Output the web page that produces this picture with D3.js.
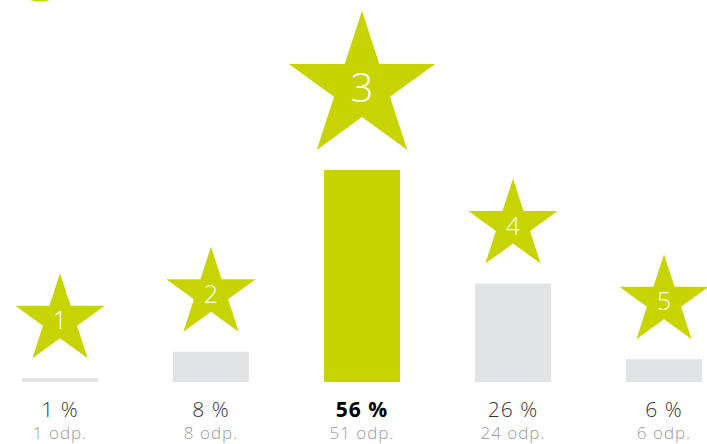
<!DOCTYPE html>
<html>
<head>
<meta charset="utf-8">
<script src="https://cdn.jsdelivr.net/npm/d3@7"></script>
<style>
  body { margin: 0; background: #fff; }
  svg { display: block; font-family: "Open Sans", "Noto Sans", sans-serif; }
</style>
</head>
<body>
<svg id="chart" width="707" height="444"></svg>
<script>
// ratings 1..5, share of answers and answer counts
var categories = ["1", "2", "3", "4", "5"];
var percents = [1, 8, 56, 26, 6];
var counts = [1, 8, 51, 24, 6];

var yellow = "#c8d400", grey = "#e2e3e5";
var svg = d3.select("#chart");

var x = d3.scalePoint().domain(categories).range([60, 664]);
var y = d3.scaleLinear().domain([0, 56]).range([382, 170]);
var barW = 76;
var maxP = d3.max(percents);

// little decorative arc in the corner
svg.append("circle")
  .attr("cx", 40).attr("cy", -32).attr("r", 32)
  .style("fill", "none").style("stroke", yellow).style("stroke-width", 3);

function starPath(R) {
  var r = R * 0.382, pts = [];
  for (var i = 0; i < 10; i++) {
    var a = Math.PI / 5 * i, rad = i % 2 ? r : R;
    pts.push([rad * Math.sin(a), -rad * Math.cos(a)]);
  }
  return "M" + pts.map(function (p) { return p.join(","); }).join("L") + "Z";
}

var g = svg.selectAll("g.item").data(categories).enter().append("g").attr("class", "item");

g.append("rect")
  .attr("x", function (d) { return x(d) - barW / 2; })
  .attr("y", function (d, i) { return y(percents[i]); })
  .attr("width", barW)
  .attr("height", function (d, i) { return y(0) - y(percents[i]); })
  .style("fill", function (d, i) { return percents[i] === maxP ? yellow : grey; });

// star sits 20px above the bar
g.each(function (d, i) {
  var big = percents[i] === maxP;
  var R = big ? 77 : 47;
  var cy = y(percents[i]) - 20 - R * 0.809;
  var s = d3.select(this).append("g").attr("transform", "translate(" + x(d) + "," + cy + ")");
  s.append("path").attr("d", starPath(R)).style("fill", yellow);
  s.append("text")
    .attr("y", big ? 14 : 9)
    .attr("text-anchor", "middle")
    .style("fill", "#fff").style("font-weight", 300)
    .style("font-size", big ? "40px" : "25px")
    .text(d);
});

g.append("text")
  .attr("x", function (d) { return x(d); })
  .attr("y", 417)
  .attr("text-anchor", "middle")
  .style("font-size", "21px")
  .style("letter-spacing", "1px")
  .style("font-weight", function (d, i) { return percents[i] === maxP ? 700 : 300; })
  .style("fill", function (d, i) { return percents[i] === maxP ? "#000" : "#333"; })
  .text(function (d, i) { return percents[i] + " %"; });

g.append("text")
  .attr("x", function (d) { return x(d); })
  .attr("y", 439)
  .attr("text-anchor", "middle")
  .style("font-size", "17px")
  .style("letter-spacing", "1px")
  .style("font-weight", 300)
  .style("fill", "#9a9a9a")
  .text(function (d, i) { return counts[i] + " odp."; });
</script>
</body>
</html>
